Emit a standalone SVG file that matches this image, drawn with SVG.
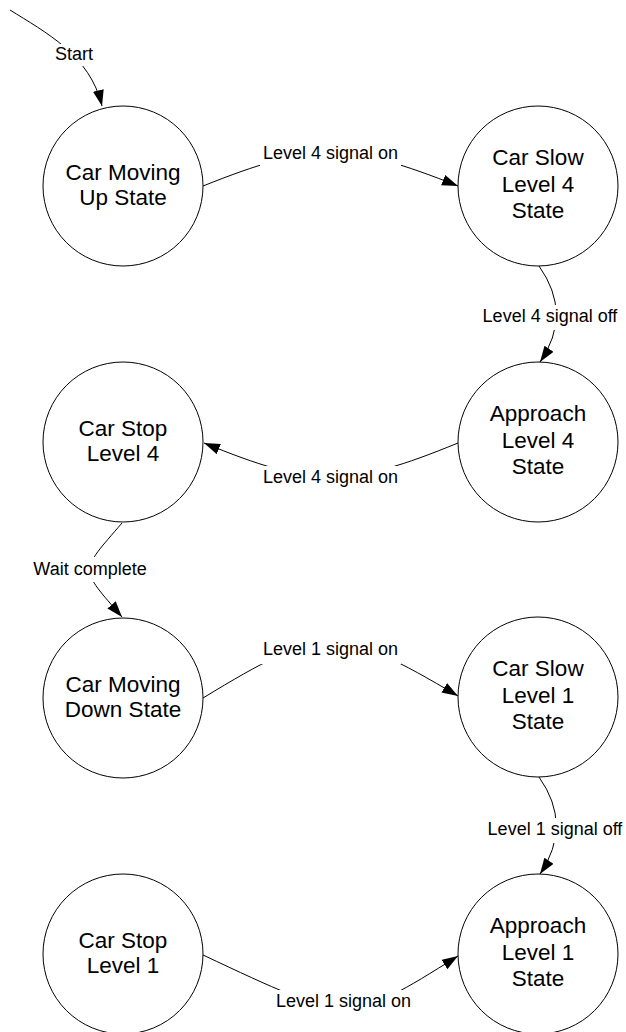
<svg xmlns="http://www.w3.org/2000/svg" width="626" height="1032" viewBox="0 0 626 1032">
  <style>
    .state circle { fill: #ffffff; stroke: #000000; stroke-width: 1; }
    .state text { font-family: "Liberation Sans", Arial, sans-serif; font-size: 22.5px; fill: #000000; text-anchor: middle; }
    .edge path { fill: none; stroke: #000000; stroke-width: 1; }
    .edge rect { fill: #ffffff; stroke: none; }
    .edge text { font-family: "Liberation Sans", Arial, sans-serif; font-size: 18px; fill: #000000; text-anchor: middle; }
  </style>
  <defs>
    <marker id="arrow" markerUnits="userSpaceOnUse" markerWidth="17" markerHeight="12" refX="16" refY="5.5" orient="auto">
      <path d="M0,0 L16,5.5 L0,11 Z" fill="#000000"/>
    </marker>
  </defs>

  <rect width="626" height="1032" fill="#ffffff"/>

  <!-- transitions -->
  <g id="connectors">
    <g class="edge" id="e-start">
      <path d="M10,10 C45,32 90,55 102,106" marker-end="url(#arrow)"/>
      <rect x="52" y="44" width="44" height="22"/>
      <text x="74" y="60">Start</text>
    </g>
    <g class="edge" id="e-up-slow4">
      <path d="M203,186 C313,142 348,142 458,186" marker-end="url(#arrow)"/>
      <rect x="260" y="141" width="141" height="27"/>
      <text x="330.5" y="159">Level 4 signal on</text>
    </g>
    <g class="edge" id="e-slow4-appr4">
      <path d="M539,266 Q573,314 540,362" marker-end="url(#arrow)"/>
      <rect x="476" y="305" width="150" height="25"/>
      <text x="550" y="322">Level 4 signal off</text>
    </g>
    <g class="edge" id="e-appr4-stop4">
      <path d="M458,443 C348,488 314,488 204,443" marker-end="url(#arrow)"/>
      <rect x="260" y="466" width="141" height="23"/>
      <text x="330.5" y="483">Level 4 signal on</text>
    </g>
    <g class="edge" id="e-stop4-down">
      <path d="M122,523 C79,573 79,567 122,617" marker-end="url(#arrow)"/>
      <rect x="30" y="557" width="121" height="25"/>
      <text x="90" y="575">Wait complete</text>
    </g>
    <g class="edge" id="e-down-slow1">
      <path d="M203,698 C323,625 338,625 458,696" marker-end="url(#arrow)"/>
      <rect x="261" y="636" width="140" height="28"/>
      <text x="330.5" y="655">Level 1 signal on</text>
    </g>
    <g class="edge" id="e-slow1-appr1">
      <path d="M539,777 Q573,825 540,874" marker-end="url(#arrow)"/>
      <rect x="482" y="818" width="144" height="25"/>
      <text x="555" y="835">Level 1 signal off</text>
    </g>
    <g class="edge" id="e-stop1-appr1">
      <path d="M203,955 C350,1024 348,1025 458,956" marker-end="url(#arrow)"/>
      <rect x="274" y="990" width="137" height="24"/>
      <text x="343.5" y="1007">Level 1 signal on</text>
    </g>
  </g>

  <!-- states -->
  <g class="state" id="car-moving-up">
    <circle cx="123" cy="186" r="80"/>
    <text x="123" y="180">Car Moving</text>
    <text x="123" y="205">Up State</text>
  </g>
  <g class="state" id="car-slow-l4">
    <circle cx="538" cy="186" r="80"/>
    <text x="538" y="165">Car Slow</text>
    <text x="538" y="192">Level 4</text>
    <text x="538" y="218">State</text>
  </g>
  <g class="state" id="approach-l4">
    <circle cx="538" cy="442" r="80"/>
    <text x="538" y="421">Approach</text>
    <text x="538" y="448">Level 4</text>
    <text x="538" y="474">State</text>
  </g>
  <g class="state" id="car-stop-l4">
    <circle cx="123" cy="442" r="80"/>
    <text x="123" y="436">Car Stop</text>
    <text x="123" y="461">Level 4</text>
  </g>
  <g class="state" id="car-moving-down">
    <circle cx="123" cy="698" r="80"/>
    <text x="123" y="692">Car Moving</text>
    <text x="123" y="717">Down State</text>
  </g>
  <g class="state" id="car-slow-l1">
    <circle cx="538" cy="697" r="80"/>
    <text x="538" y="676">Car Slow</text>
    <text x="538" y="703">Level 1</text>
    <text x="538" y="729">State</text>
  </g>
  <g class="state" id="approach-l1">
    <circle cx="538" cy="954" r="80"/>
    <text x="538" y="933">Approach</text>
    <text x="538" y="960">Level 1</text>
    <text x="538" y="986">State</text>
  </g>
  <g class="state" id="car-stop-l1">
    <circle cx="123" cy="954" r="80"/>
    <text x="123" y="948">Car Stop</text>
    <text x="123" y="973">Level 1</text>
  </g>
</svg>
